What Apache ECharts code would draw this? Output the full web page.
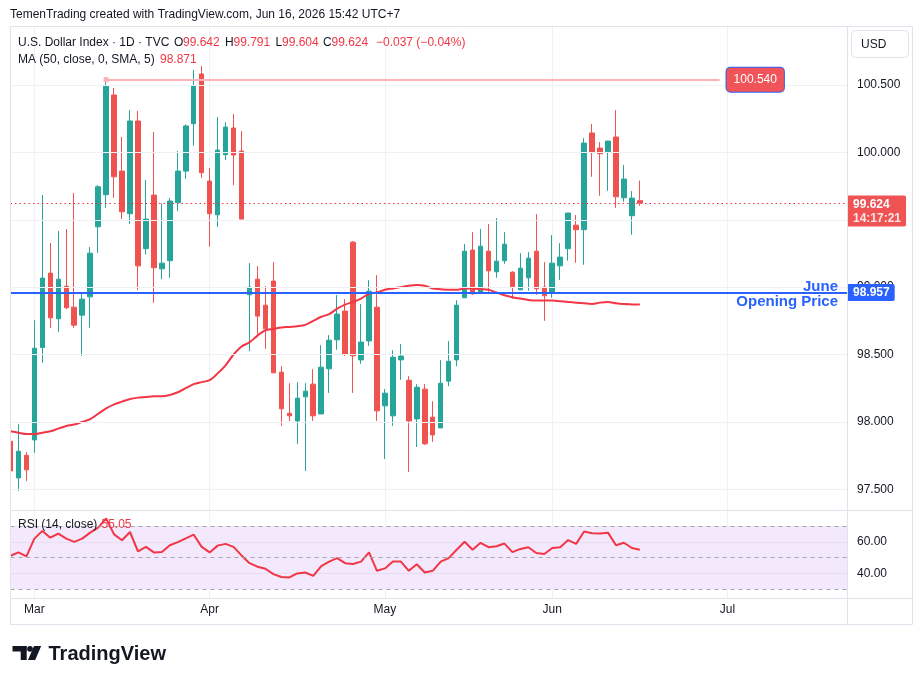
<!DOCTYPE html>
<html>
<head>
<meta charset="utf-8">
<script src="https://cdn.jsdelivr.net/npm/echarts@6/dist/echarts.min.js"></script>
<style>
html,body{margin:0;padding:0;background:#ffffff;}
#c{width:923px;height:685px;}
</style>
</head>
<body>
<div id="c"></div>
<script>
// ---------------- DATA ----------------
const START_DATE = '2026-02-25';
const TOTAL_SLOTS = 106; // trading-day slots shown on the time axis (incl. future blank days)
const monthLabels = {'2026-03-02':'Mar','2026-04-01':'Apr','2026-05-01':'May','2026-06-01':'Jun','2026-07-01':'Jul'};

const opens = [97.856,97.584,97.752,97.866,98.552,99.104,98.765,99.007,98.851,98.792,
98.928,99.448,99.686,100.426,99.861,99.545,100.233,99.285,99.683,99.136,
99.196,99.626,99.861,100.213,100.582,99.787,99.537,99.983,100.181,100.010,
98.943,99.059,98.866,99.045,98.369,98.064,98.007,98.186,98.280,98.059,
98.394,98.609,98.822,99.334,98.460,98.601,98.851,98.119,98.045,98.460,
98.309,98.022,98.243,98.035,97.955,98.302,98.460,98.921,99.275,98.958,
99.267,99.114,99.196,99.111,98.980,99.069,99.267,99.000,98.958,99.158,
99.285,99.460,99.426,100.144,100.032,100.005,100.114,99.663,99.530,99.642];

const highs = [97.998,97.983,97.777,98.755,99.683,99.327,99.416,99.431,99.698,98.953,
99.297,99.757,100.542,100.478,100.114,100.314,100.307,99.795,100.151,99.621,
99.663,100.010,100.208,100.611,100.641,99.884,100.262,100.225,100.285,100.158,
99.178,99.156,99.007,99.186,98.413,98.287,98.295,98.287,98.391,98.569,
98.644,98.941,98.911,99.342,98.874,99.052,99.089,98.243,98.532,98.577,
98.339,98.280,98.280,98.153,98.458,98.599,98.903,99.319,99.408,99.431,
99.468,99.512,99.408,99.119,99.252,99.260,99.542,99.186,99.386,99.327,
99.550,99.535,100.106,100.210,100.077,100.084,100.314,99.906,99.713,99.791];

const lows = [97.621,97.488,97.562,97.770,98.438,98.698,98.668,98.837,98.698,98.490,
98.698,99.255,99.589,99.663,99.505,99.468,98.978,99.243,98.884,99.059,
99.069,99.564,99.804,100.050,99.812,99.300,99.448,99.943,99.757,99.505,
98.525,98.631,98.542,98.364,97.970,98.007,97.837,97.636,98.007,98.059,
98.215,98.535,98.488,98.215,98.431,98.564,98.007,97.725,97.970,98.312,
97.629,97.814,97.829,97.851,97.955,98.265,98.413,98.921,98.943,98.958,
98.965,99.069,99.173,98.913,98.980,98.973,98.943,98.750,98.921,99.054,
99.196,99.181,99.166,99.819,99.678,99.715,99.589,99.634,99.389,99.604];

const closes = [97.636,97.782,97.644,98.547,99.067,98.772,99.059,98.847,98.718,98.911,
99.252,99.745,100.493,99.819,99.559,100.233,99.158,99.505,99.144,99.178,
99.639,99.861,100.196,100.493,99.849,99.545,100.017,100.188,99.980,99.505,
99.000,98.785,98.691,98.364,98.097,98.045,98.176,98.228,98.045,98.406,
98.606,98.800,98.502,98.490,98.592,98.970,98.082,98.213,98.480,98.488,
98.007,98.257,97.837,97.903,98.287,98.450,98.866,99.267,98.950,99.304,
99.121,99.193,99.319,99.002,99.141,99.215,98.988,98.936,99.178,99.223,
99.550,99.426,100.069,99.998,99.990,100.084,99.671,99.802,99.661,99.624];

const ma50 = [97.93,97.92,97.91,97.91,97.92,97.93,97.95,97.97,97.98,98.00,
98.02,98.06,98.10,98.13,98.15,98.17,98.18,98.185,98.19,98.19,
98.20,98.22,98.25,98.28,98.295,98.31,98.36,98.42,98.50,98.56,
98.59,98.64,98.68,98.69,98.70,98.705,98.71,98.72,98.75,98.78,
98.80,98.84,98.87,98.89,98.915,98.95,98.96,98.98,98.99,99.00,
99.01,99.015,99.01,98.99,98.985,98.98,98.98,98.99,98.99,98.985,
98.98,98.96,98.94,98.925,98.915,98.905,98.90,98.90,98.90,98.895,
98.89,98.885,98.88,98.875,98.885,98.89,98.88,98.874,98.872,98.871];

const rsi14 = [51.2,53.3,50.8,62.0,66.9,62.6,65.2,62.0,60.0,62.0,
65.8,69.0,74.8,64.7,61.0,66.2,54.0,56.8,53.3,53.5,
57.8,59.8,62.2,64.5,56.8,53.3,57.6,58.7,56.8,51.4,
46.5,44.3,43.0,39.6,37.8,37.5,40.0,40.6,38.5,44.7,
47.5,49.7,46.5,46.0,47.5,53.3,41.7,43.2,47.5,47.5,
41.7,45.8,40.6,41.7,47.5,49.7,55.0,60.0,55.0,59.4,
56.6,57.2,58.9,53.5,55.5,56.6,52.9,52.3,56.1,56.6,
61.1,58.7,66.5,65.4,65.2,65.8,57.8,59.4,56.1,55.05];

const priceTicks = [97.5,98.0,98.5,99.0,99.5,100.0,100.5];
const rsiTicks = [40,60];
const rsiDashed = [30,50,70];
const rsiBand = [30,70];

const lastPrice = 99.624;
const countdown = '14:17:21';
const juneOpen = 98.957;
const markHigh = 100.540;
const markHighStartIdx = 12;
const markHighEndIdx = 89;
const maLast = 98.871;
const rsiLast = 55.05;
const changeText = '\u22120.037 (\u22120.04%)';

// ---------------- HELPERS ----------------
function weekdays(start, n){
  const out=[]; const d=new Date(start+'T00:00:00Z');
  while(out.length<n){ const w=d.getUTCDay(); if(w!==0&&w!==6) out.push(d.toISOString().slice(0,10)); d.setUTCDate(d.getUTCDate()+1); }
  return out;
}
const categories = weekdays(START_DATE, TOTAL_SLOTS);
const isMonthStart = (idx, val) => Object.prototype.hasOwnProperty.call(monthLabels, val);

const FONT = '"Liberation Sans", Arial, sans-serif';
const TXT = '#131722';
const UP = '#26A69A', DOWN = '#EF5350';
const GRID = '#EFF1F4';
const BLUE = '#2962FF';
const REDLINE = '#F23645';
const VAL = '#F23645';

const candleData = opens.map((o,i)=>[o, closes[i], lows[i], highs[i]]);

const chart = echarts.init(document.getElementById('c'), null, {renderer:'canvas', width:923, height:685});

const GL = 10.5, GW = 836.5;
const HIDDEN_LINE = {color:'rgba(0,0,0,0)', width:0, opacity:1};

function txt(text, x, y, fill, font){
  return {type:'text', z:101, silent:true,
    style:{text:text, x:x, y:y, font:font||('12px '+FONT), fill:fill||TXT, textVerticalAlign:'middle', verticalAlign:'middle'}};
}

const option = {
  animation:false,
  backgroundColor:'#ffffff',
  textStyle:{fontFamily:FONT},
  grid:[
    {left:GL, top:26, width:GW, height:484},
    {left:GL, top:510, width:GW, height:88}
  ],
  xAxis:[
    {type:'category', gridIndex:0, data:categories, boundaryGap:false,
     axisLine:{show:false}, axisTick:{show:false}, axisLabel:{show:false},
     splitLine:{show:true, interval:isMonthStart, lineStyle:{color:GRID, width:1}}},
    {type:'category', gridIndex:1, data:categories, boundaryGap:false,
     axisLine:{show:false}, axisTick:{show:false},
     axisLabel:{show:true, interval:isMonthStart, formatter:(v)=>monthLabels[v]||'', color:TXT, fontSize:12, margin:6, fontFamily:FONT},
     splitLine:{show:true, interval:isMonthStart, lineStyle:{color:GRID, width:1}}}
  ],
  yAxis:[
    {type:'value', gridIndex:0, position:'right', min:97.346, max:100.938, scale:true,
     axisLine:{show:false}, axisTick:{show:false}, splitLine:{show:false},
     axisLabel:{show:true, customValues:priceTicks, formatter:(v)=>v.toFixed(3), color:TXT, fontSize:12, margin:10, fontFamily:FONT}},
    {type:'value', gridIndex:1, position:'right', min:24.51, max:80.1, scale:true,
     axisLine:{show:false}, axisTick:{show:false}, splitLine:{show:false},
     axisLabel:{show:true, customValues:rsiTicks, formatter:(v)=>v.toFixed(2), color:TXT, fontSize:12, margin:10, fontFamily:FONT}}
  ],
  series:[
    // price grid lines
    {type:'line', xAxisIndex:0, yAxisIndex:0, data:[], z:1, silent:true,
     markLine:{silent:true, symbol:['none','none'], animation:false, label:{show:false},
       lineStyle:{color:GRID, width:1, type:'solid'},
       data: priceTicks.map(v=>({yAxis:v}))}},
    // candles
    {type:'candlestick', name:'DXY', xAxisIndex:0, yAxisIndex:0, data:candleData, z:3, barWidth:5, clip:true,
     itemStyle:{color:UP, color0:DOWN, borderColor:UP, borderColor0:DOWN, borderWidth:1}},
    // MA 50
    {type:'line', name:'MA50', xAxisIndex:0, yAxisIndex:0, data:ma50, z:4, symbol:'none', smooth:0.3,
     lineStyle:{color:REDLINE, width:2}},
    // annotations
    {type:'line', xAxisIndex:0, yAxisIndex:0, data:[], z:6, silent:true,
     markLine:{silent:true, symbol:['none','none'], animation:false,
       data:[
         [{coord:[categories[markHighStartIdx], markHigh], symbol:'rect', symbolSize:5},
          {coord:[categories[markHighEndIdx], markHigh], symbol:'none',
           label:{show:true, position:'end', distance:7, formatter:markHigh.toFixed(3),
             color:'#ffffff', fontSize:12, fontFamily:FONT, backgroundColor:'#F05459',
             borderColor:BLUE, borderWidth:1, borderRadius:4, padding:[6,7,6,7]}}],
         {yAxis:lastPrice, lineStyle:{color:REDLINE, width:1, type:[1.5,3]},
          label:{show:true, position:'insideEndBottom', distance:[-1,-8], align:'left', verticalAlign:'top',
            formatter:'{a|'+lastPrice.toFixed(3)+'}\n{b|'+countdown+'}',
            backgroundColor:'#F05353', borderRadius:[0,2,2,0], padding:[2,5,1,5],
            rich:{a:{color:'#ffffff', fontWeight:'bold', fontSize:12, lineHeight:14, fontFamily:FONT},
                  b:{color:'rgba(255,255,255,0.85)', fontWeight:'bold', fontSize:12, lineHeight:14, fontFamily:FONT}}}},
         {yAxis:juneOpen, lineStyle:{color:BLUE, width:2, type:'solid'},
          label:{show:true, position:'end', distance:1, formatter:juneOpen.toFixed(3),
            color:'#ffffff', fontWeight:'bold', fontSize:12, fontFamily:FONT, lineHeight:13,
            backgroundColor:BLUE, borderRadius:[0,2,2,0], padding:[2,5,2,5]}},
         {yAxis:juneOpen, lineStyle:HIDDEN_LINE,
          label:{show:true, position:'insideEndTop', distance:[9,-2.5], formatter:'June',
            color:BLUE, fontWeight:'bold', fontSize:15, lineHeight:16, fontFamily:FONT}},
         {yAxis:juneOpen, lineStyle:HIDDEN_LINE,
          label:{show:true, position:'insideEndBottom', distance:[9,1.5], formatter:'Opening Price',
            color:BLUE, fontWeight:'bold', fontSize:15, lineHeight:16, fontFamily:FONT}}
       ],
       lineStyle:{color:'#FAB3B8', width:2, type:'solid'}}},
    // RSI background and guides
    {type:'line', xAxisIndex:1, yAxisIndex:1, data:[], z:1, silent:true,
     markArea:{silent:true, itemStyle:{color:'#F3E8FC'}, data:[[{yAxis:rsiBand[0]},{yAxis:rsiBand[1]}]]},
     markLine:{silent:true, symbol:['none','none'], animation:false, label:{show:false},
       data: rsiTicks.map(v=>({yAxis:v, lineStyle:{color:'rgba(42,46,57,0.06)', width:1, type:'solid'}}))
         .concat(rsiDashed.map(v=>({yAxis:v, lineStyle:{color:'#A3A6AF', width:1, type:[4,4]}})))}},
    // RSI line
    {type:'line', name:'RSI', xAxisIndex:1, yAxisIndex:1, data:rsi14, z:4, symbol:'none',
     lineStyle:{color:REDLINE, width:2}}
  ],
  graphic:[
    // mask left of the pane (clips first candle like the reference)
    {type:'rect', z:99, silent:true, shape:{x:0, y:26, width:10.5, height:600}, style:{fill:'#ffffff'}},
    // frame and separators
    {type:'rect', z:100, silent:true, shape:{x:10.5, y:26.5, width:902, height:598}, style:{fill:null, stroke:'#E0E3EB', lineWidth:1}},
    {type:'line', z:100, silent:true, shape:{x1:10.5, y1:510.5, x2:912.5, y2:510.5}, style:{stroke:'#E0E3EB', lineWidth:1}},
    {type:'line', z:100, silent:true, shape:{x1:10.5, y1:598.5, x2:912.5, y2:598.5}, style:{stroke:'#E0E3EB', lineWidth:1}},
    {type:'line', z:100, silent:true, shape:{x1:847.5, y1:26.5, x2:847.5, y2:624.5}, style:{stroke:'#E0E3EB', lineWidth:1}},
    // USD box
    {type:'rect', z:100, silent:true, shape:{x:851.5, y:30.5, width:57, height:27, r:4}, style:{fill:'#ffffff', stroke:'#E0E3EB', lineWidth:1}},
    txt('USD', 861, 45),
    // top caption
    txt('TemenTrading created with TradingView.com, Jun 16, 2026 15:42 UTC+7', 10, 14.5, TXT, '12px '+FONT),
    // legend line 1
    txt('U.S. Dollar Index \u00b7 1D \u00b7 TVC', 18, 42.5),
    txt('O', 174, 42.5), txt(opens[opens.length-1].toFixed(3), 183, 42.5, VAL),
    txt('H', 225, 42.5), txt(highs[highs.length-1].toFixed(3), 233.5, 42.5, VAL),
    txt('L', 275.5, 42.5), txt(lows[lows.length-1].toFixed(3), 282, 42.5, VAL),
    txt('C', 323, 42.5), txt(closes[closes.length-1].toFixed(3), 331.5, 42.5, VAL),
    txt(changeText, 376, 42.5, VAL),
    // legend line 2
    txt('MA (50, close, 0, SMA, 5)', 18, 59.5), txt(maLast.toFixed(3), 160, 59.5, VAL),
    // RSI legend
    txt('RSI (14, close)', 18, 525), txt(rsiLast.toFixed(2), 101.5, 525, VAL),
    // TradingView logo
    {type:'rect', z:101, silent:true, shape:{x:12.5, y:646, width:14, height:5.5}, style:{fill:TXT}},
    {type:'rect', z:101, silent:true, shape:{x:20.7, y:646, width:6, height:14}, style:{fill:TXT}},
    {type:'circle', z:101, silent:true, shape:{cx:30, cy:648.8, r:2.9}, style:{fill:TXT}},
    {type:'polygon', z:101, silent:true, shape:{points:[[34,646],[41.2,646],[35.2,660],[28,660]]}, style:{fill:TXT}},
    txt('TradingView', 48.5, 654, TXT, 'bold 20px '+FONT)
  ]
};
chart.setOption(option);
</script>
</body>
</html>
